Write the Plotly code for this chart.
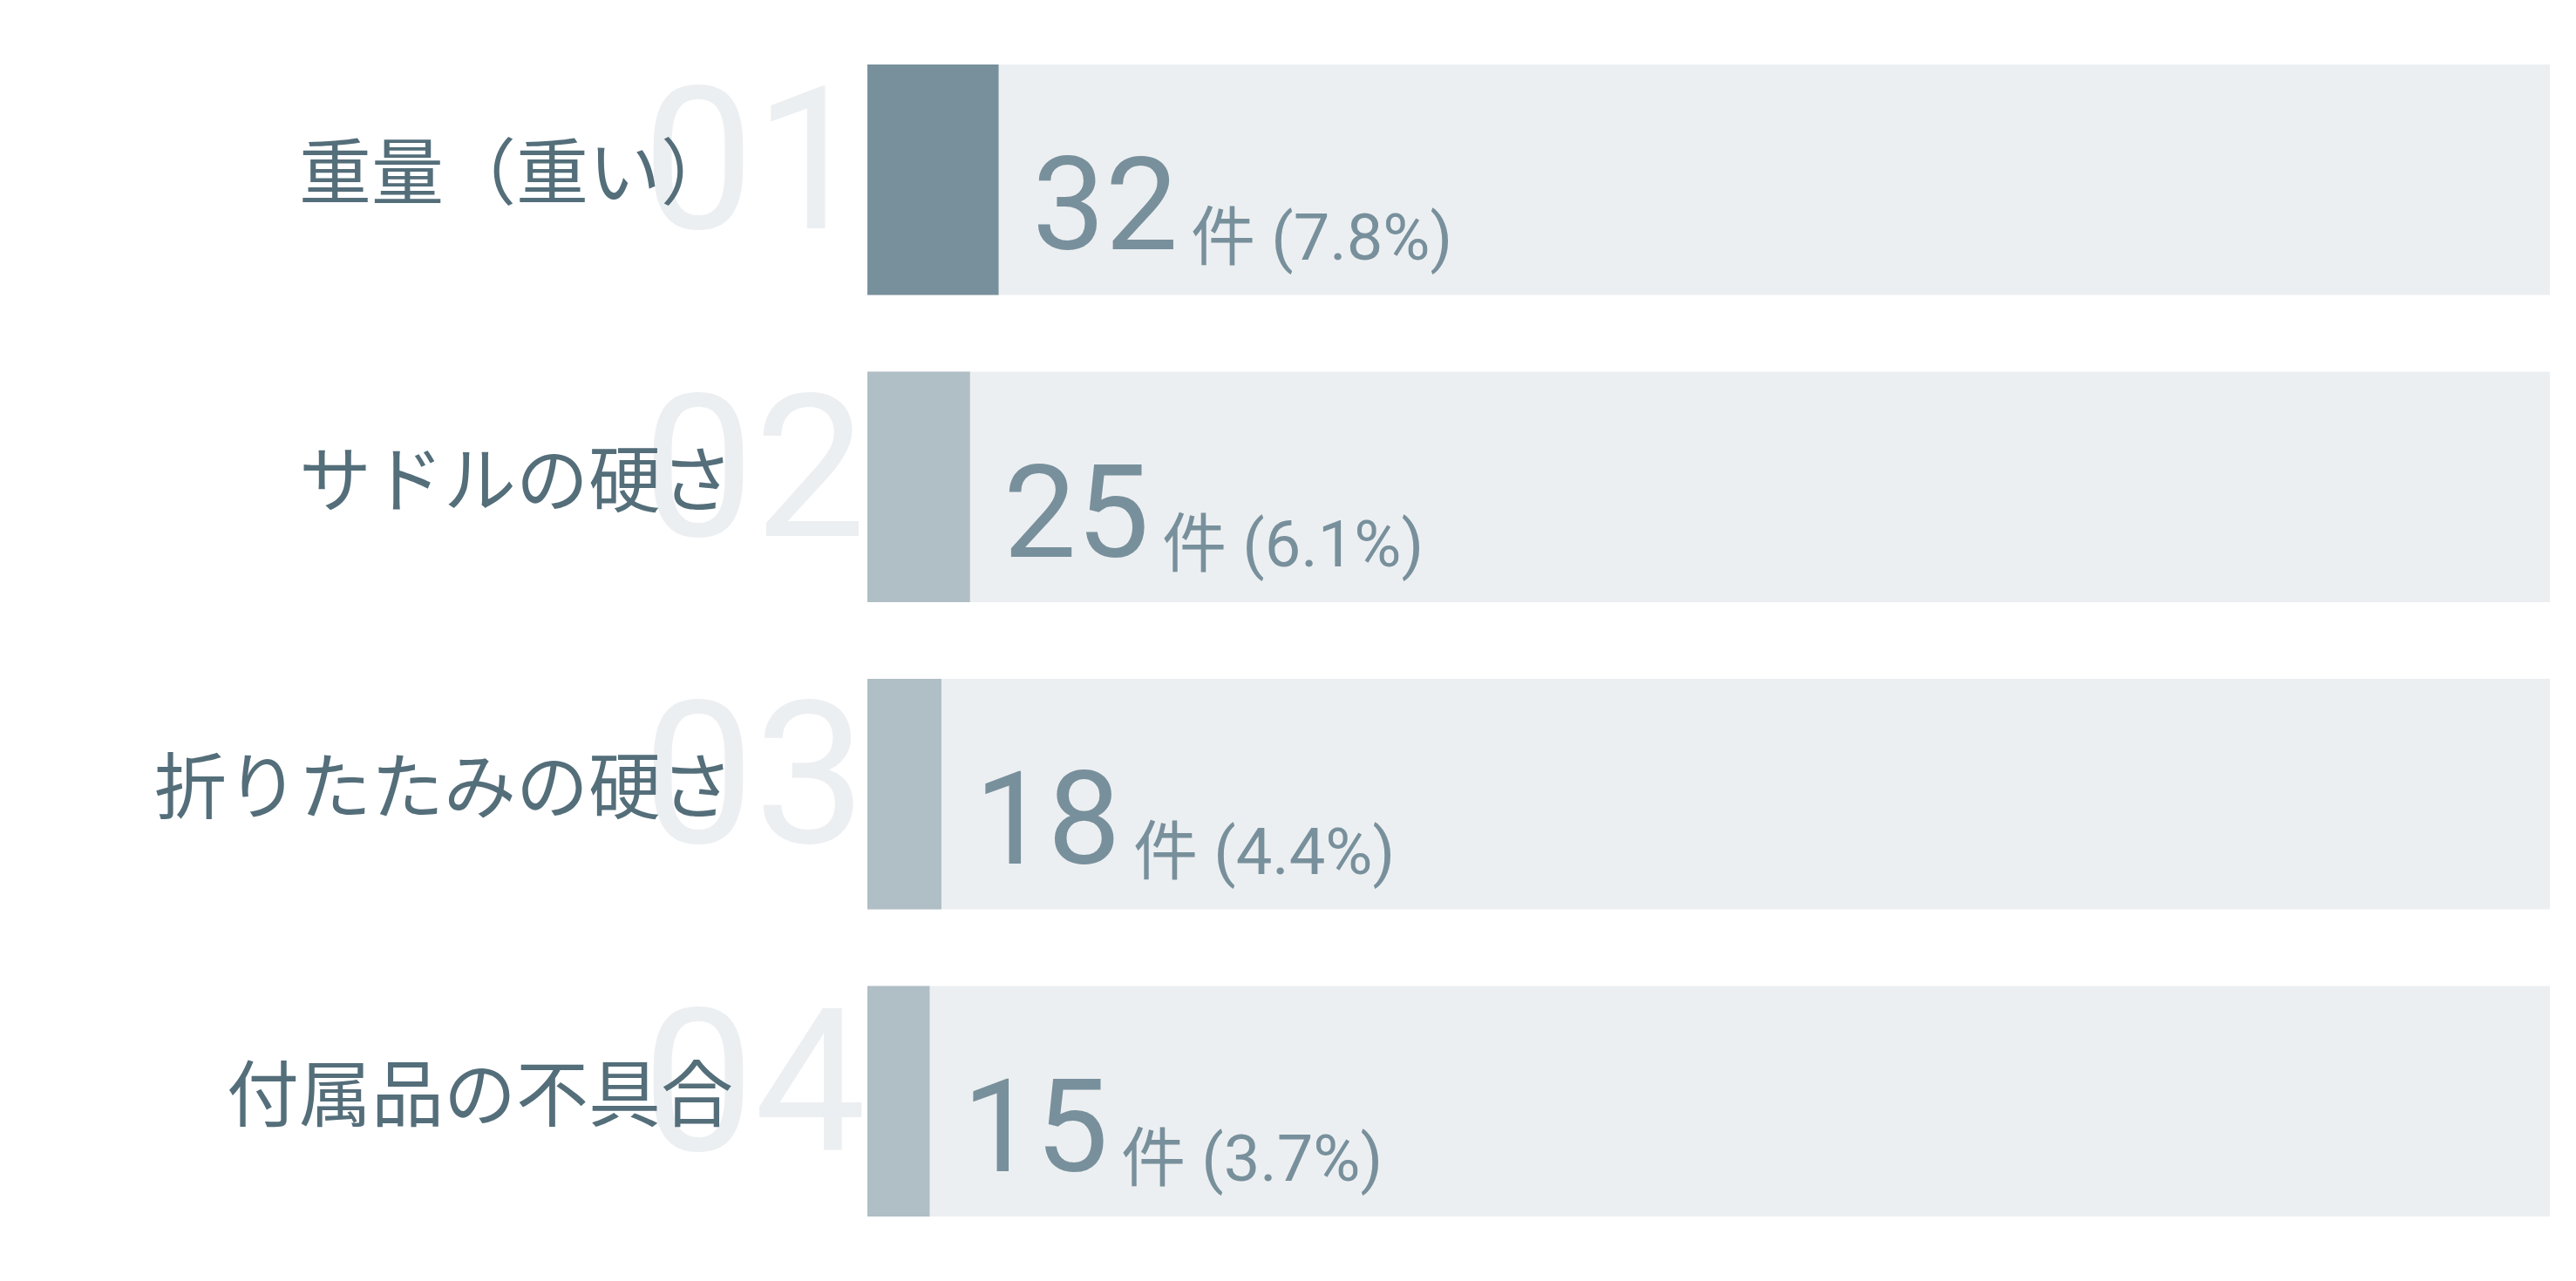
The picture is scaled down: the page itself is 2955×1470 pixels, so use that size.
import plotly.graph_objects as go

# data
categories = ["重量（重い）", "サドルの硬さ", "折りたたみの硬さ", "付属品の不具合"]
counts = [32, 25, 18, 15]
percents = [7.8, 6.1, 4.4, 3.7]
ranks = ["01", "02", "03", "04"]

W, H = 2955, 1470
TRACK = "#eceff1"
TOP_COLOR = "#78909c"
REST_COLOR = "#b0bec5"
LABEL_COLOR = "#546e7a"
VALUE_COLOR = "#78909c"

bar_colors = [TOP_COLOR if i == 0 else REST_COLOR for i in range(len(counts))]

fig = go.Figure()

# full-width background track
fig.add_trace(go.Bar(
    y=categories, x=[100] * len(categories), orientation="h",
    marker=dict(color=TRACK, line=dict(width=0)),
    hoverinfo="skip", showlegend=False,
))

# value bars (share of total)
fig.add_trace(go.Bar(
    y=categories, x=percents, orientation="h",
    marker=dict(color=bar_colors, line=dict(width=0)),
    customdata=counts,
    hovertemplate="%{y}: %{customdata}件 (%{x}%)<extra></extra>",
    showlegend=False,
))

annotations = []

# big ghost rank numbers, drawn first so labels sit on top
for cat, rank in zip(categories, ranks):
    annotations.append(dict(
        x=0, xref="paper", y=cat, yref="y",
        text=rank, showarrow=False,
        xanchor="right", yanchor="middle", xshift=0, yshift=22,
        font=dict(family="Roboto, Noto Sans", size=228, color=TRACK),
    ))

# category labels
for cat in categories:
    annotations.append(dict(
        x=0, xref="paper", y=cat, yref="y",
        text=cat, showarrow=False,
        xanchor="right", yanchor="middle", xshift=-152, yshift=14,
        font=dict(family="Noto Sans CJK JP", size=83, color=LABEL_COLOR),
    ))

# count + percentage next to each bar
for cat, n, p in zip(categories, counts, percents):
    annotations.append(dict(
        x=p, xref="x", y=cat, yref="y",
        text=str(n), showarrow=False,
        xanchor="left", yanchor="middle", xshift=36, yshift=-29,
        font=dict(family="Roboto, Noto Sans CJK JP", size=149, color=VALUE_COLOR),
    ))
    annotations.append(dict(
        x=p, xref="x", y=cat, yref="y",
        text=f"件 ({p}%)", showarrow=False,
        xanchor="left", yanchor="middle", xshift=218, yshift=-66,
        font=dict(family="Roboto, Noto Sans CJK JP", size=74, color=VALUE_COLOR),
    ))

fig.update_layout(
    width=W, height=H,
    margin=dict(l=987, r=38, t=22, b=38),
    paper_bgcolor="white", plot_bgcolor="white",
    barmode="overlay", bargap=0.25,
    xaxis=dict(range=[0, 100], visible=False, fixedrange=True),
    yaxis=dict(categoryorder="array", categoryarray=categories,
               autorange="reversed", visible=False, fixedrange=True),
    annotations=annotations,
)

fig.write_html("out.html")
